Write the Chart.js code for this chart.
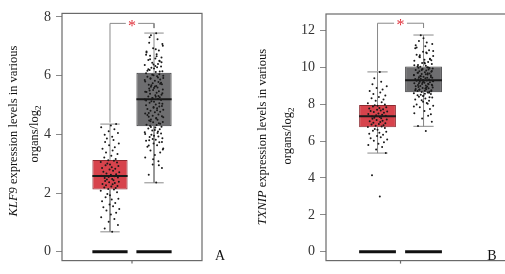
<!DOCTYPE html>
<html><head><meta charset="utf-8">
<script src="https://cdn.jsdelivr.net/npm/chart.js@4"></script>
<style>
html,body{margin:0;padding:0;background:#fff;width:505px;height:274px;overflow:hidden;position:relative;}
canvas{position:absolute;top:0;}
.ttl{position:absolute;font-family:"Liberation Serif","DejaVu Serif",serif;font-size:12.5px;color:#111;white-space:nowrap;transform:translate(-50%,-50%) rotate(-90deg);}
.pl{position:absolute;font-family:"Liberation Serif","DejaVu Serif",serif;font-size:14px;color:#111;transform:translate(-50%,-50%);}
</style></head><body>
<canvas id="cA" width="250" height="274" style="left:0"></canvas>
<canvas id="cB" width="270" height="274" style="left:250px"></canvas>
<div class="ttl" style="left:13px;top:131px"><i>KLF9</i> expression levels in various</div>
<div class="ttl" style="left:35px;top:134px">organs/log<sub style="font-size:9px">2</sub></div>
<div class="ttl" style="left:262px;top:137px"><i>TXNIP</i> expression levels in various</div>
<div class="ttl" style="left:288px;top:136px">organs/log<sub style="font-size:9px">2</sub></div>
<div class="pl" style="left:220px;top:256px">A</div>
<div class="pl" style="left:492px;top:256px">B</div>
<script>
// ---- data ----
const groups = ['Tumor', 'Normal'];
const groupX = [1, 2];
const panelNames = ['A', 'B'];

// Panel A: KLF9
const ticksA = [0, 2, 4, 6, 8];
const q1A = [2.12, 4.28];
const medA = [2.58, 5.20];
const q3A = [3.13, 6.10];
const lowA = [0.68, 2.35];
const highA = [4.35, 7.45];
const zeroA = [0, 0];
const bracketA = 7.78;
const legEndA = [4.40, 7.62];

// Panel B: TXNIP
const ticksB = [0, 2, 4, 6, 8, 10, 12];
const q1B = [6.75, 8.65];
const medB = [7.35, 9.30];
const q3B = [7.95, 10.05];
const lowB = [5.35, 6.80];
const highB = [9.75, 11.75];
const zeroB = [0, 0];
const bracketB = 12.39;
const legEndB = [9.80, 12.13];

// jittered sample points
const ptsA1 = [0.68,0.79,0.91,1.02,1.12,1.18,1.27,1.33,1.41,1.46,1.52,1.55,1.61,1.66,1.72,1.78,1.81,1.86,1.93,1.97,2.03,2.08,
  2.12,2.14,2.17,2.19,2.22,2.24,2.27,2.30,2.31,2.34,2.37,2.39,2.41,2.44,2.46,2.48,2.51,2.53,2.55,2.57,
  2.59,2.62,2.64,2.67,2.71,2.73,2.76,2.80,2.83,2.85,2.88,2.92,2.95,2.97,3.01,3.04,3.06,3.10,3.12,
  3.16,3.21,3.27,3.33,3.38,3.45,3.51,3.56,3.63,3.69,3.74,3.81,3.86,3.92,3.99,4.05,4.11,4.17,4.24,4.30,4.35];
const ptsA2 = [2.36,2.62,2.85,2.97,3.08,3.21,3.30,3.38,3.45,3.52,3.58,3.63,3.69,3.73,3.78,3.82,3.87,3.91,3.95,3.99,4.03,4.07,4.10,4.13,4.17,4.20,4.23,4.26,
  4.29,4.32,4.33,4.38,4.41,4.42,4.47,4.50,4.51,4.56,4.60,4.62,4.63,4.68,4.71,4.75,4.77,4.80,4.84,4.86,4.89,4.93,4.95,4.99,5.02,5.04,5.08,5.11,5.13,5.17,5.19,
  5.21,5.24,5.26,5.29,5.33,5.35,5.38,5.42,5.44,5.47,5.51,5.53,5.56,5.60,5.62,5.65,5.69,5.71,5.74,5.78,5.80,5.83,5.87,5.89,5.92,5.96,5.98,6.01,6.05,6.08,
  6.12,6.15,6.19,6.24,6.27,6.31,6.36,6.40,6.44,6.49,6.53,6.58,6.62,6.68,6.73,6.79,6.86,6.93,7.02,7.12,7.24,7.38,7.44,
  3.62,3.74,3.84,3.93,4.01,4.15,4.36,4.45,4.58,4.66,4.82,4.91,5.06,5.15,5.28,5.40,5.49,5.58,5.67,5.76,5.85,5.94,6.03,6.14,6.22,6.33,6.46,6.56,6.66,6.82,
  2.95,3.15,3.48,3.80,4.05,4.25,4.54,4.73,4.97,5.23,5.31,5.45,5.63,5.72,5.91,6.00,6.17,6.29,6.38,6.51,6.71,6.90,7.08,7.31];
const ptsB1 = [3.00,4.15,5.36,5.55,5.68,5.79,5.86,5.93,6.02,6.08,6.15,6.21,6.28,6.34,6.40,6.45,6.51,6.56,6.61,6.66,6.71,
  6.76,6.79,6.83,6.86,6.90,6.93,6.97,7.00,7.04,7.07,7.10,7.14,7.17,7.21,7.24,7.27,7.30,7.33,
  7.37,7.40,7.43,7.47,7.50,7.53,7.57,7.60,7.63,7.66,7.70,7.73,7.77,7.80,7.84,7.88,7.91,7.94,
  7.99,8.05,8.11,8.18,8.25,8.32,8.39,8.47,8.55,8.63,8.71,8.80,8.88,8.97,9.08,9.21,9.40,9.74];
const ptsB2 = [6.55,6.82,7.05,7.22,7.38,7.51,7.63,7.74,7.83,7.92,7.99,8.06,8.13,8.19,8.25,8.31,8.36,8.41,8.46,8.51,8.55,8.59,8.63,
  8.66,8.68,8.71,8.73,8.76,8.78,8.81,8.83,8.86,8.88,8.91,8.93,8.96,8.99,9.01,9.04,9.06,9.09,9.11,9.14,9.16,9.19,9.21,9.24,9.27,9.29,
  9.31,9.34,9.37,9.40,9.43,9.46,9.49,9.52,9.55,9.58,9.61,9.64,9.67,9.70,9.73,9.76,9.79,9.82,9.85,9.88,9.91,9.94,9.97,10.00,10.03,
  10.08,10.13,10.18,10.23,10.29,10.35,10.41,10.47,10.54,10.61,10.68,10.76,10.84,10.93,11.03,11.14,11.27,11.42,11.58,11.74,
  7.45,7.88,8.02,8.22,8.38,8.48,8.57,8.70,8.79,8.90,8.97,9.08,9.17,9.26,9.35,9.44,9.53,9.62,9.71,9.80,9.90,9.99,10.11,10.26,10.44,10.65,10.88,11.08,11.35,
  8.44,8.62,8.75,8.85,9.02,9.13,9.23,9.38,9.47,9.57,9.68,9.86,9.96,10.05,10.20,10.38,10.57,10.80,11.20];
const jitter = [0.05,-0.12,0.18,-0.03,0.10,-0.20,0.02,0.14,-0.08,0.21,-0.15,0.07,-0.01,0.12,-0.18,0.04,0.19,-0.10,0.00,-0.06,0.16,-0.21,0.09,-0.04,0.13,-0.13,0.03,0.17,-0.09,0.06,-0.17,0.11,-0.02,0.20,-0.11,0.08,-0.07];

// ---- build ----
function build(canvasId, p) {
  const half = 0.4, cap = 0.22, gap = 0.14;
  const seg = (arr, x1, y1, x2, y2) => { arr.push({x:x1,y:y1},{x:x2,y:y2},{x:x2,y:null}); };
  const whisk = [], meds = [], zeros = [], brk = [];
  for (let i = 0; i < 2; i++) {
    const x = groupX[i];
    seg(whisk, x, p.q3[i], x, p.high[i]);
    seg(whisk, x, p.q1[i], x, p.low[i]);
    seg(whisk, x - cap, p.high[i], x + cap, p.high[i]);
    seg(whisk, x - cap, p.low[i], x + cap, p.low[i]);
    seg(meds, x - half, p.med[i], x + half, p.med[i]);
    seg(zeros, x - half, p.zero[i], x + half, p.zero[i]);
  }
  const mid = (groupX[0] + groupX[1]) / 2;
  brk.push({x:groupX[0],y:p.leg[0]},{x:groupX[0],y:p.bracket},{x:mid-gap,y:p.bracket},{x:mid-gap,y:null},
           {x:mid+gap,y:p.bracket},{x:groupX[1],y:p.bracket},{x:groupX[1],y:p.leg[1]});
  const pts = (vals, gi) => vals.map((v, i) => ({x: groupX[gi] + jitter[i % jitter.length], y: v}));

  const framePlugin = {
    id: 'frame',
    afterDatasetsDraw(chart) {
      const {ctx, chartArea: a, scales: {x, y}} = chart;
      ctx.save();
      ctx.strokeStyle = '#6a6a6a'; ctx.lineWidth = 1.2;
      ctx.strokeRect(a.left, a.top, a.right - a.left, a.bottom - a.top);
      const mx = x.getPixelForValue(mid);
      ctx.beginPath(); ctx.moveTo(mx, a.bottom); ctx.lineTo(mx, a.bottom + 3); ctx.stroke();
      ctx.fillStyle = '#e0303a';
      ctx.font = '16px "Liberation Serif", serif';
      ctx.textAlign = 'center'; ctx.textBaseline = 'middle';
      ctx.fillText('*', mx, y.getPixelForValue(p.bracket) + 3);
      ctx.restore();
    }
  };

  return new Chart(document.getElementById(canvasId), {
    type: 'scatter',
    data: {
      datasets: [
        { type: 'scatter', data: pts(p.pts[0], 0), pointRadius: 1.0, pointBackgroundColor: '#1a1a1a', pointBorderWidth: 0, order: 0 },
        { type: 'scatter', data: pts(p.pts[1], 1), pointRadius: 1.0, pointBackgroundColor: '#1a1a1a', pointBorderWidth: 0, order: 0 },
        { type: 'line', data: meds, borderColor: '#1a1a1a', borderWidth: 2, pointRadius: 0, spanGaps: false, order: 1 },
        { type: 'line', data: zeros, borderColor: '#111', borderWidth: 3, pointRadius: 0, spanGaps: false, order: 1 },
        { type: 'line', data: whisk, borderColor: '#8a8a8a', borderWidth: 1, pointRadius: 0, spanGaps: false, order: 2 },
        { type: 'line', data: brk, borderColor: '#8a8a8a', borderWidth: 1, pointRadius: 0, spanGaps: false, order: 2 },
        { type: 'bar', data: groupX.map((x, i) => ({x: x, y: [p.q1[i], p.q3[i]]})),
          backgroundColor: ['#d7434c', '#6e6e70'], borderColor: ['#8c2a30', '#3c3c3e'], borderWidth: 1,
          borderSkipped: false, barPercentage: 0.8, categoryPercentage: 1, order: 3 }
      ]
    },
    options: {
      responsive: false, animation: false, devicePixelRatio: 1,
      layout: { padding: p.pad },
      plugins: { legend: { display: false }, tooltip: { enabled: false } },
      scales: {
        x: { type: 'linear', display: false, offset: false, grid: { offset: false }, min: p.xmin, max: p.xmax },
        y: { type: 'linear', min: p.ymin, max: p.ymax,
             afterBuildTicks: s => { s.ticks = p.ticks.map(v => ({value: v})); },
             afterFit: s => { s.width = p.yw; },
             border: { display: false },
             grid: { drawOnChartArea: false, drawTicks: true, tickLength: 6, color: '#8a8a8a' },
             ticks: { padding: 5, color: '#333', font: { family: '"Liberation Serif", serif', size: 14 } } }
      }
    },
    plugins: [framePlugin]
  });
}

build('cA', { q1:q1A, med:medA, q3:q3A, low:lowA, high:highA, zero:zeroA, bracket:bracketA, leg:legEndA,
  ticks:ticksA, pts:[ptsA1, ptsA2], xmin:-0.09, xmax:3.09, ymin:-0.30, ymax:8.12, yw:62,
  pad:{left:0, right:48, top:13, bottom:9} });
build('cB', { q1:q1B, med:medB, q3:q3B, low:lowB, high:highB, zero:zeroB, bracket:bracketB, leg:legEndB,
  ticks:ticksB, pts:[ptsB1, ptsB2], xmin:-0.12, xmax:3.88, ymin:-0.48, ymax:12.89, yw:76,
  pad:{left:0, right:10, top:14, bottom:9} });
</script>
</body></html>
